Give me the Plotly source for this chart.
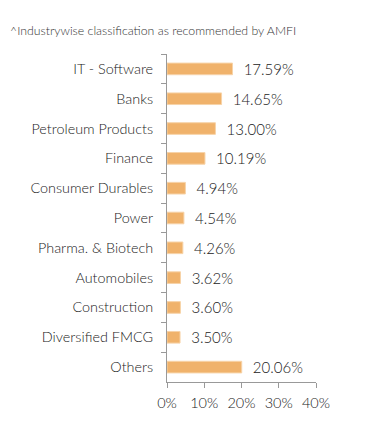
import plotly.graph_objects as go

categories = ["IT - Software", "Banks", "Petroleum Products", "Finance", "Consumer Durables",
              "Power", "Pharma. & Biotech", "Automobiles", "Construction", "Diversified FMCG", "Others"]
values = [17.59, 14.65, 13.00, 10.19, 4.94, 4.54, 4.26, 3.62, 3.60, 3.50, 20.06]
x_ticks = [0, 10, 20, 30, 40]
x_tick_labels = ["0%", "10%", "20%", "30%", "40%"]
title_text = "^Industrywise classification as recommended by AMFI"

fig = go.Figure(go.Bar(
    x=values, y=categories, orientation="h",
    marker=dict(color="#F0B26B", line=dict(color="#F7D3A8", width=1)),
    text=[f"\u00a0\u00a0{v:.2f}%" for v in values],
    textposition="outside", cliponaxis=False, constraintext="none",
    textfont=dict(family="Lato", size=15, color="#222222", weight=300),
    width=0.39,
))

fig.update_layout(
    width=383, height=431,
    margin=dict(l=159, r=75, t=46, b=57, autoexpand=False),
    paper_bgcolor="white", plot_bgcolor="white",
    font=dict(family="Lato", size=13, color="#333333"),
    showlegend=False,
    annotations=[dict(text=title_text, xref="paper", yref="paper", x=0, y=1.0,
                      xanchor="left", yanchor="middle", xshift=-159, yshift=24, showarrow=False,
                      font=dict(family="Lato", size=12.3, color="#333333", weight=300))],
)
fig.update_xaxes(range=[0, 40], tickvals=x_ticks, ticktext=x_tick_labels,
                 showgrid=False, zeroline=False, showline=True, linecolor="#999999",
                 ticks="outside", ticklen=5, tickcolor="#999999", automargin=False,
                 ticklabelstandoff=3,
                 tickfont=dict(family="Lato", size=14.5, color="#222222", weight=300))
fig.update_yaxes(autorange="reversed", showgrid=False, showline=True, linecolor="#999999",
                 ticks="outside", ticklen=5, tickcolor="#999999", tickson="boundaries",
                 ticklabelstandoff=10, automargin=False,
                 tickfont=dict(family="Lato", size=14.4, color="#222222", weight=300))

fig.write_html("out.html")
